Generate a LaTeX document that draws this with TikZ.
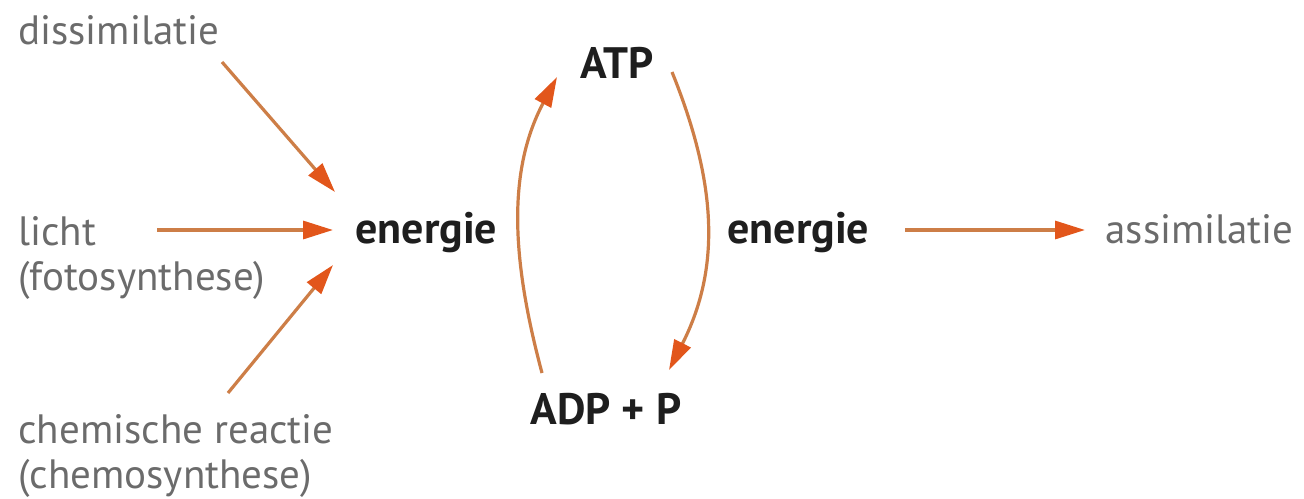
\documentclass[tikz,border=0pt]{standalone}
\usepackage{fontspec}
\setmainfont{PT Sans}
\usepackage{xcolor}
\definecolor{labelgray}{HTML}{6B6B6B}
\definecolor{ink}{HTML}{1E1E1E}
\definecolor{arrowline}{HTML}{CD7E47}
\definecolor{arrowtip}{HTML}{E2561B}
\usetikzlibrary{arrows.meta}

\begin{document}
\begin{tikzpicture}[
  x=0.5pt, y=-0.5pt,
  font=\fontsize{20.5}{22.5}\selectfont,
  label/.style={text=labelgray, inner sep=0pt, anchor=base west, align=left},
  term/.style={text=ink, font=\fontsize{22}{24}\selectfont\bfseries, inner sep=0pt, anchor=base west},
  arr/.style={draw=arrowline, line width=1.6pt,
              -{Triangle[length=15pt, width=9pt, color=arrowtip]}}
]
  \useasboundingbox (0,0) rectangle (1304,498);

  % sources of energy (base = last line)
  \node[label] (dis)   at (18,44)  {dissimilatie};
  \node[label] (licht) at (18,290) {licht\\(fotosynthese)};
  \node[label] (chem)  at (18,488) {chemische reactie\\(chemosynthese)};

  % the ATP cycle
  \node[term] (enl) at (355,243) {energie};
  \node[term] (atp) at (580,78)  {ATP};
  \node[term] (adp) at (530,424) {ADP + P};
  \node[term] (enr) at (727,243) {energie};

  \node[label] (ass) at (1105,243) {assimilatie};

  \draw[arr] ([shift={(204,18)}]dis.base west)    -- ([shift={(-20,-51)}]enl.base west);
  \draw[arr] ([shift={(139,-60)}]licht.base west) -- ([shift={(-22,-13)}]enl.base west);
  \draw[arr] ([shift={(210,-95)}]chem.base west)  -- ([shift={(-22,22)}]enl.base west);

  \draw[arr] ([shift={(12,-51)}]adp.base west)
    to[out=105, in=-118, looseness=0.95] ([shift={(-23,-1)}]atp.base west);
  \draw[arr] ([shift={(92,-6)}]atp.base west)
    to[out=-68, in=63, looseness=1] ([shift={(139,-54)}]adp.base west);

  \draw[arr] ([shift={(178,-13)}]enr.base west)   -- ([shift={(-20,-13)}]ass.base west);
\end{tikzpicture}
\end{document}
